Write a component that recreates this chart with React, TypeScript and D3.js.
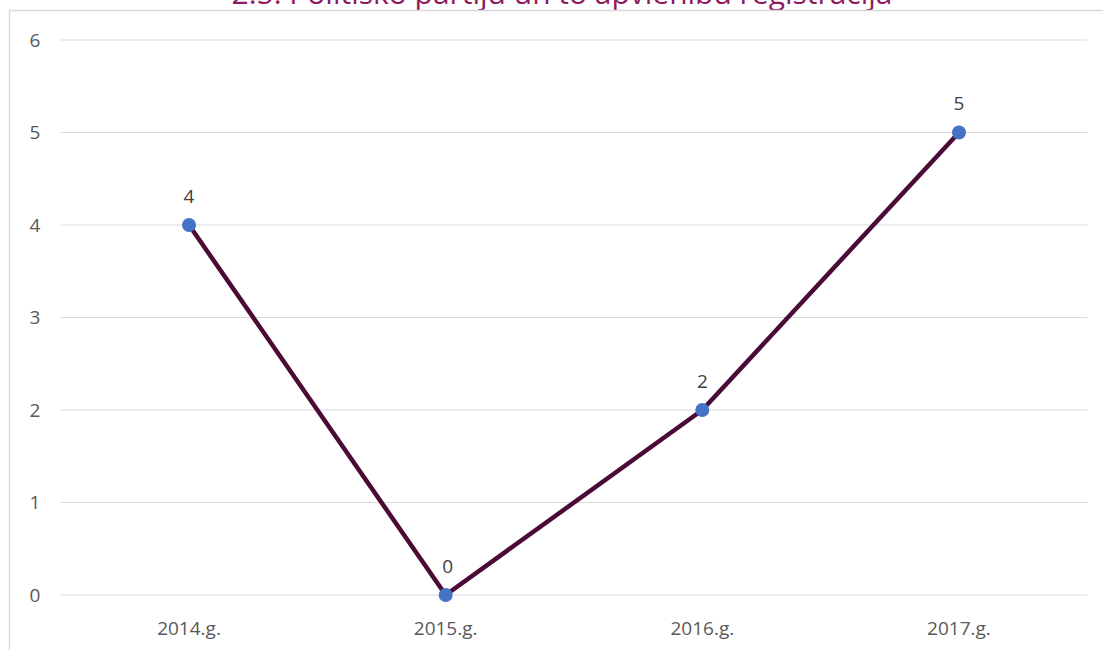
import React from "react";
import * as d3 from "d3";

const title = "2.5. Politisko partiju un to apvienību reģistrācija";
const categories = ["2014.g.", "2015.g.", "2016.g.", "2017.g."];
const values = [4, 0, 2, 5];
const yTicks = [0, 1, 2, 3, 4, 5, 6];

export default function App() {
  const W = 1103, H = 650;
  const left = 60.7, right = 1087.3, top = 40, bottom = 595;
  const x = d3.scaleBand<string>().domain(categories).range([left, right]);
  const y = d3.scaleLinear().domain([0, 6]).range([bottom, top]);
  const cx = (c: string) => (x(c) as number) + x.bandwidth() / 2;
  const line = d3.line<number>().x((_, i) => cx(categories[i])).y((v) => y(v));
  const font = "'Open Sans', sans-serif";
  return (
    <svg width={W} height={H} style={{ position: "absolute", left: 0, top: 0 }} fontFamily={font}>
      <rect x={0} y={0} width={W} height={H} fill="#fff" />
      <text x={562} y={3.5} textAnchor="middle" fontSize={29} textLength={661} lengthAdjust="spacingAndGlyphs" fill="#8e1b62">{title}</text>
      <line x1={9} x2={W} y1={10.5} y2={10.5} stroke="#d9d9d9" strokeWidth={1.5} />
      <line x1={9.5} x2={9.5} y1={10} y2={H} stroke="#d9d9d9" strokeWidth={1.5} />
      {yTicks.map((t) => (
        <g key={t}>
          <line x1={left} x2={right} y1={y(t)} y2={y(t)} stroke="#d9d9d9" strokeWidth={1} />
          <text x={35} y={y(t)} dy="0.35em" textAnchor="middle" fontSize={19} fill="#595959">{t}</text>
        </g>
      ))}
      {categories.map((c) => (
        <text key={c} x={cx(c)} y={628} dy="0.35em" textAnchor="middle" fontSize={19} fill="#595959">{c}</text>
      ))}
      <path d={line(values) || ""} fill="none" stroke="#4c0b36" strokeWidth={4.5} strokeLinejoin="round" />
      {values.map((v, i) => (
        <g key={i}>
          <circle cx={cx(categories[i])} cy={y(v)} r={7} fill="#4472c4" />
          <text x={cx(categories[i]) + (i === 1 ? 2 : 0)} y={y(v) - 29} dy="0.35em" textAnchor="middle" fontSize={19} fill="#404040">{v}</text>
        </g>
      ))}
    </svg>
  );
}
